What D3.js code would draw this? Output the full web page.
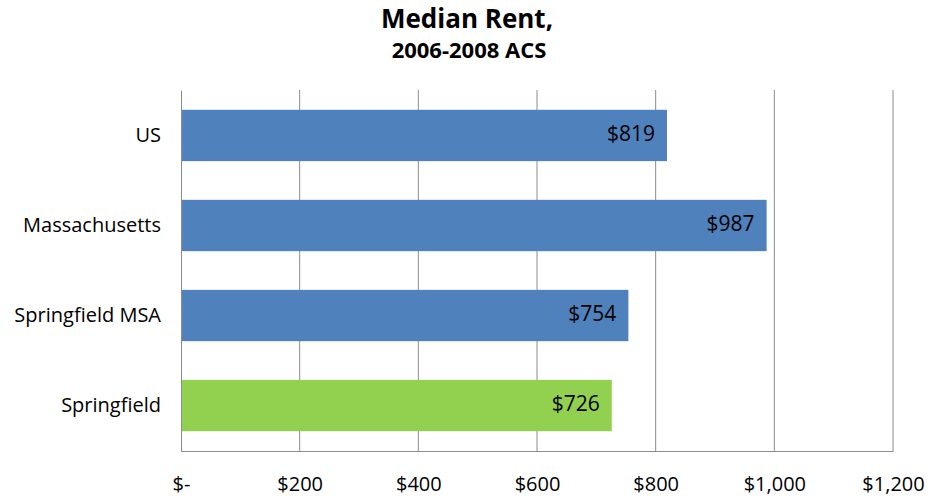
<!DOCTYPE html>
<html>
<head>
<meta charset="utf-8">
<script src="https://cdn.jsdelivr.net/npm/d3@7"></script>
<style>
  body { margin: 0; background: #fff; }
  text { font-family: "Open Sans", "Noto Sans", sans-serif; }
</style>
</head>
<body>
<script>
const categories = ["US", "Massachusetts", "Springfield MSA", "Springfield"];
const rents = [819, 987, 754, 726];
const barColors = ["#4f81bd", "#4f81bd", "#4f81bd", "#92d050"];
const xTicks = [0, 200, 400, 600, 800, 1000, 1200];

const width = 928, height = 496;
const margin = { top: 90, right: 35, bottom: 45, left: 181 };

const svg = d3.select("body").append("svg")
  .attr("width", width)
  .attr("height", height)
  .attr("viewBox", [0, 0, width, height]);

const x = d3.scaleLinear().domain([0, 1200]).range([margin.left, width - margin.right]);
const y = d3.scaleBand().domain(categories)
  .range([margin.top, height - margin.bottom])
  .paddingInner(0.43).paddingOuter(0.22);

// title
svg.append("text").attr("x", 467).attr("y", 21).attr("text-anchor", "middle")
  .attr("dominant-baseline", "middle")
  .style("font-size", "26px").style("font-weight", "bold").text("Median Rent,");
svg.append("text").attr("x", 469).attr("y", 52).attr("text-anchor", "middle")
  .attr("dominant-baseline", "middle")
  .style("font-size", "22px").style("font-weight", "bold").text("2006-2008 ACS");

// gridlines
svg.append("g").selectAll("line")
  .data(xTicks.slice(1))
  .join("line")
  .attr("x1", d => x(d)).attr("x2", d => x(d))
  .attr("y1", margin.top).attr("y2", height - margin.bottom)
  .attr("stroke", "#8c8c8c").attr("stroke-width", 1);

// bars
svg.append("g").selectAll("rect")
  .data(categories)
  .join("rect")
  .attr("x", x(0))
  .attr("y", d => y(d))
  .attr("width", (d, i) => x(rents[i]) - x(0))
  .attr("height", y.bandwidth())
  .attr("fill", (d, i) => barColors[i]);

// value labels
svg.append("g").selectAll("text")
  .data(categories)
  .join("text")
  .attr("x", (d, i) => x(rents[i]) - 12)
  .attr("y", d => y(d) + y.bandwidth() / 2)
  .attr("text-anchor", "end")
  .attr("dominant-baseline", "middle")
  .style("font-size", "21px").attr("fill", "#000")
  .text((d, i) => "$" + rents[i]);

// x axis
const xAxis = d3.axisBottom(x).tickValues(xTicks).tickSize(0).tickPadding(26)
  .tickFormat(d => d === 0 ? "$-" : "$" + d3.format(",")(d));
svg.append("g")
  .attr("transform", `translate(0,${height - margin.bottom})`)
  .call(xAxis)
  .call(g => g.select(".domain").attr("stroke", "#8c8c8c"))
  .call(g => g.selectAll("text").style("font-size", "20px").attr("fill", "#000")
    .style("font-family", "'Open Sans', sans-serif"));

// y axis
const yAxis = d3.axisLeft(y).tickSize(0).tickPadding(20);
svg.append("g")
  .attr("transform", `translate(${margin.left},0)`)
  .call(yAxis)
  .call(g => g.select(".domain").attr("stroke", "#8c8c8c"))
  .call(g => g.selectAll("text").style("font-size", "20px").attr("fill", "#000")
    .style("font-family", "'Open Sans', sans-serif"));
</script>
</body>
</html>
